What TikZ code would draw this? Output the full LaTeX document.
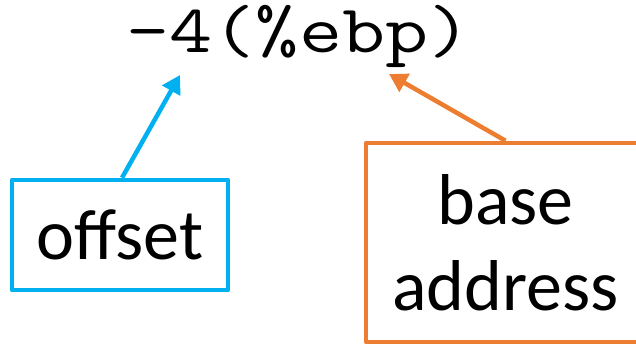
\documentclass[tikz,border=0pt]{standalone}
\usepackage{fontspec}
\setmainfont{Carlito}
\usetikzlibrary{arrows.meta}
\definecolor{callblue}{RGB}{0,176,240}
\definecolor{callorange}{RGB}{237,125,49}
\tikzset{
  labelbox/.style={draw, line width=4.5pt, line join=round, inner sep=0pt,
    align=center, font=\fontsize{72}{86}\selectfont},
  pointer/.style={line width=4.5pt, -{Triangle[length=18pt,width=20pt]}}
}
\begin{document}
\begin{tikzpicture}[x=1pt,y=-1pt]
  \useasboundingbox (0,0) rectangle (636,344);
  % operand in AT&T syntax, typewriter face widened a little
  \node[anchor=base, inner sep=0pt] (code) at (299,53)
    {\scalebox{1.23}[1]{\ttfamily\fontsize{68}{68}\selectfont -4(\%ebp)}};
  \coordinate (offtip) at (180,75);
  \coordinate (basetip) at (389,74);
  % callout boxes
  \node[labelbox, draw=callblue, minimum width=216pt, minimum height=110pt]
    (off) at (120,235) {offset};
  \node[labelbox, draw=callorange, minimum width=279pt, minimum height=199pt]
    (base) at (505.5,242.5) {base\\address};
  % pointers
  \draw[pointer, callblue] ([xshift=2pt]off.north) -- (offtip);
  \draw[pointer, callorange] (base.north) -- (basetip);
\end{tikzpicture}
\end{document}
